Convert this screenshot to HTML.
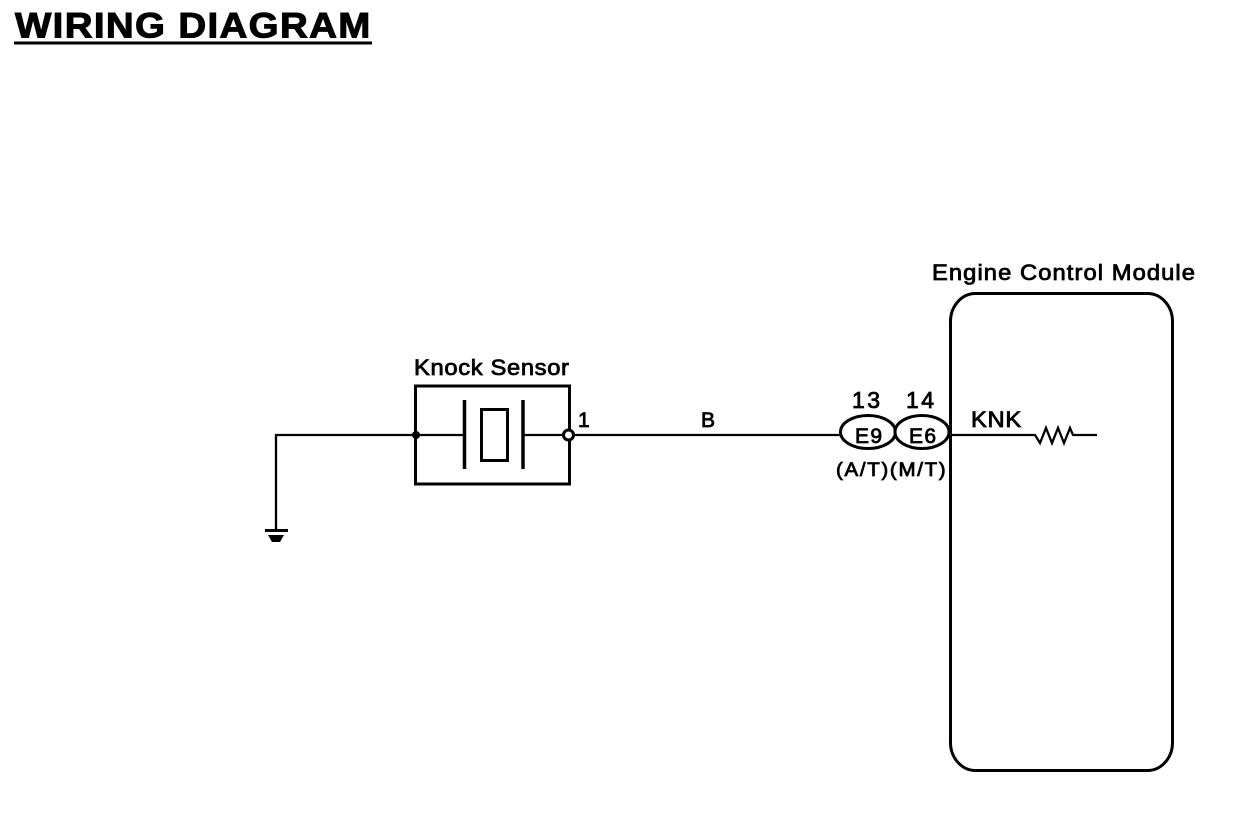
<!DOCTYPE html>
<html><head><meta charset="utf-8"><style>
html,body{margin:0;padding:0;background:#fff;width:1248px;height:822px;overflow:hidden}
svg{display:block}
text{font-family:"Liberation Sans",sans-serif;fill:#000}
</style></head><body>
<svg width="1248" height="822" viewBox="0 0 1248 822" xmlns="http://www.w3.org/2000/svg">
<text transform="translate(15 37.500) scale(1.1 1)" font-size="35" font-weight="bold" textLength="323" stroke="#000" stroke-width="1">WIRING DIAGRAM</text>
<rect x="14" y="41.500" width="358" height="3"/>
<g fill="none" stroke="#000">
<path d="M276 530V435H464M523 435H840M948 435H1035L1040 443 1046 428 1052 443 1058 428 1064 443 1070 428 1073 435H1097" stroke-width="2.300"/>
<rect x="415.500" y="386" width="154" height="98" stroke-width="3"/>
<path d="M464.500 400V469M523 400V469" stroke-width="3.500"/>
<rect x="481.500" y="409.500" width="26" height="51" stroke-width="3"/>
<rect x="950.500" y="293.500" width="222" height="477" rx="25" ry="28" stroke-width="3"/>
<ellipse cx="868" cy="432" rx="27.500" ry="16.500" fill="#fff" stroke-width="3"/>
<ellipse cx="922" cy="432" rx="27" ry="16.500" fill="#fff" stroke-width="3"/>
</g>
<circle cx="416" cy="435" r="4"/>
<circle cx="568.500" cy="435" r="5" fill="#fff" stroke="#000" stroke-width="3"/>
<rect x="265" y="529" width="23" height="3"/>
<path d="M268 535H284L280 542H272Z"/>
<g stroke="#000" stroke-width="0.800">
<text transform="translate(414 375) scale(1.08 1)" font-size="22" textLength="143.500">Knock Sensor</text>
<text transform="translate(932 280) scale(1.08 1)" font-size="22" textLength="243.500">Engine Control Module</text>
<text x="578" y="427" font-size="21">1</text>
<text x="701" y="427" font-size="21" textLength="16">B</text>
<text x="852" y="408" font-size="23" textLength="28">13</text>
<text x="906" y="408" font-size="23" textLength="28">14</text>
<text x="855" y="443" font-size="21" textLength="27">E9</text>
<text x="909" y="443" font-size="21" textLength="27">E6</text>
<text transform="translate(971 427) scale(1.08 1)" font-size="22" textLength="46.500">KNK</text>
<text transform="translate(836 476) scale(1.08 1)" font-size="19" textLength="101.500">(A/T)(M/T)</text>
</g>
</svg>
</body></html>
